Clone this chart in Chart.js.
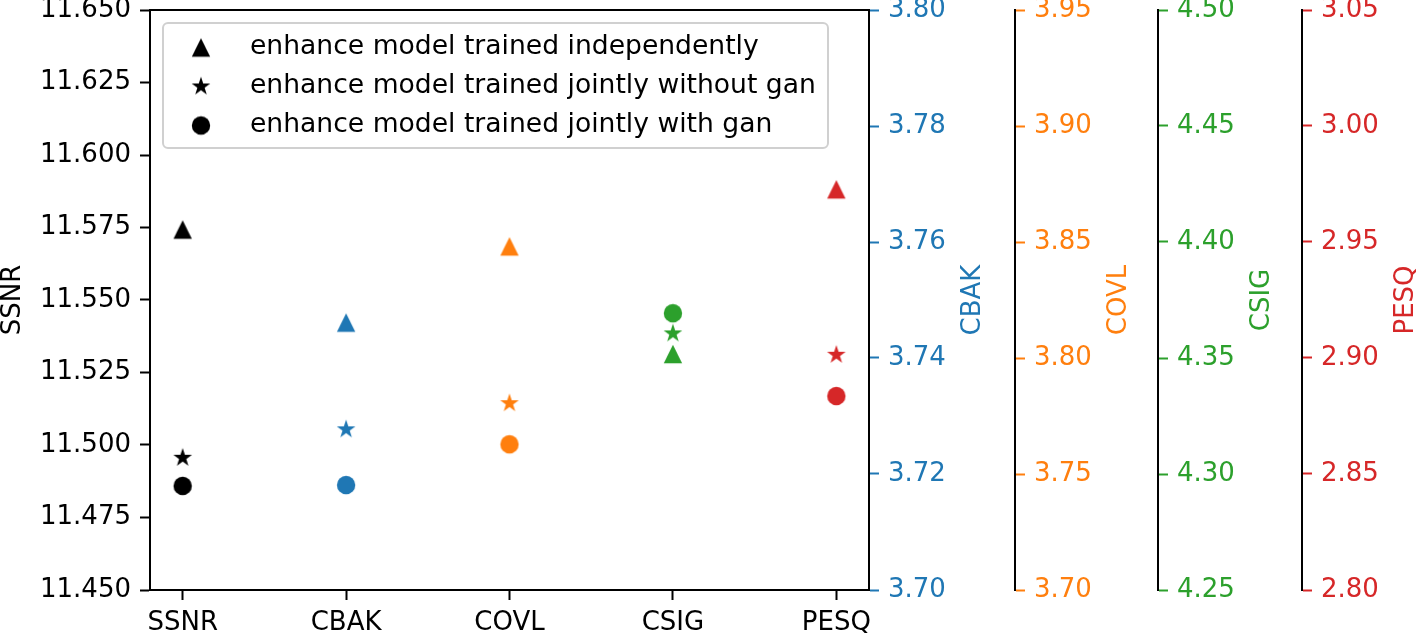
<!DOCTYPE html>
<html>
<head>
<meta charset="utf-8">
<script src="https://cdn.jsdelivr.net/npm/chart.js@4.4.0/dist/chart.umd.min.js"></script>
<style>
  body{margin:0;background:#fff;}
  #wrap{width:1418px;height:634px;}
</style>
</head>
<body>
<div id="wrap"><canvas id="myChart" width="1418" height="634"></canvas></div>
<script>
// metrics on the x axis
const categories = ['SSNR', 'CBAK', 'COVL', 'CSIG', 'PESQ'];
// values per method, one per metric
const independent = [11.5743, 3.7461, 3.8481, 4.3517, 2.9727];
const jointNoGan  = [11.4956, 3.7277, 3.7805, 4.3606, 2.9014];
const jointGan    = [11.4859, 3.7181, 3.7628, 4.3693, 2.8836];
const methodNames = [
  'enhance model trained independently',
  'enhance model trained jointly without gan',
  'enhance model trained jointly with gan'
];
// axis ranges and steps
const axisMin  = [11.45, 3.70, 3.70, 4.25, 2.80];
const axisMax  = [11.65, 3.80, 3.95, 4.50, 3.05];
const axisStep = [0.025, 0.02, 0.05, 0.05, 0.05];
const axisDigits = [3, 2, 2, 2, 2];

const colors = ['#000000', '#1f77b4', '#ff7f0e', '#2ca02c', '#d62728'];
const axisIds = ['ySSNR', 'yCBAK', 'yCOVL', 'yCSIG', 'yPESQ'];
const rightWidths = [146, 143, 144, 116];

const FONT = 'DejaVu Sans';
Chart.defaults.font.family = FONT;
Chart.defaults.font.size = 26;
Chart.defaults.color = '#000';

// matplotlib-like markers drawn on small canvases
let makeMarker=(shape, color)=>{
  const c = document.createElement('canvas');
  c.width = 24; c.height = 24;
  const g = c.getContext('2d');
  g.fillStyle = color;
  g.beginPath();
  const cx = 12, cy = 12, r = 9.2;
  if (shape === 'tri') {
    g.moveTo(cx, cy - r);
    g.lineTo(cx + r, cy + r);
    g.lineTo(cx - r, cy + r);
    g.closePath();
  } else if (shape === 'star') {
    const inner = r * 0.381966;
    for (let k = 0; k < 10; k++) {
      const rr = k % 2 == 0 ? r + 0.6 : inner + 0.3;
      const a = -Math.PI / 2 + k * Math.PI / 5;
      const px = cx + rr * Math.cos(a), py = cy + rr * Math.sin(a);
      if (k == 0) g.moveTo(px, py); else g.lineTo(px, py);
    }
    g.closePath();
  } else {
    g.arc(cx, cy, r, 0, Math.PI * 2);
  }
  g.fill();
  return c;
}
const shapes = ['tri', 'star', 'circle'];

const datasets = categories.map((cat, i) => ({
  label: cat,
  yAxisID: axisIds[i],
  data: [
    {x: i, y: independent[i]},
    {x: i, y: jointNoGan[i]},
    {x: i, y: jointGan[i]}
  ],
  pointStyle: shapes.map(s => makeMarker(s, colors[i])),
  pointRadius: 9,
  pointHoverRadius: 9,
  showLine: false
}));

const scales = {
  x: {
    type: 'linear',
    min: -0.2, max: 4.2,
    afterBuildTicks: s => { s.ticks = categories.map((c, i) => ({value: i})); },
    ticks: { callback: v => categories[v], padding: 8, color: '#000', maxRotation: 0 },
    grid: { drawOnChartArea: false, tickLength: 10, tickWidth: 2, tickColor: '#000' },
    border: { display: true, color: '#000', width: 2 },
    afterFit: s => { s.height = 44; s.paddingLeft = 0; s.paddingRight = 0; }
  }
};
axisIds.forEach((id, i) => {
  const right = i > 0;
  scales[id] = {
    type: 'linear',
    position: right ? 'right' : 'left',
    weight: i,
    min: axisMin[i], max: axisMax[i],
    ticks: {
      stepSize: axisStep[i],
      callback: v => v.toFixed(axisDigits[i]),
      color: colors[i],
      padding: 9
    },
    grid: { drawOnChartArea: false, tickLength: 10, tickWidth: 2, tickColor: colors[i] },
    border: { display: true, color: '#000', width: 2 },
    afterFit: s => {
      s.width = right ? rightWidths[i - 1] : 150;
      s.paddingTop = 0; s.paddingBottom = 0;
    }
  };
});

// top spine, axis titles and legend box
const extras = {
  id: 'extras',
  afterDraw(chart) {
    const ctx = chart.ctx;
    const a = chart.chartArea;
    ctx.save();
    ctx.strokeStyle = '#000';
    ctx.lineWidth = 2;
    ctx.beginPath();
    ctx.moveTo(a.left, a.top);
    ctx.lineTo(a.right, a.top);
    ctx.stroke();

    const midY = (a.top + a.bottom) / 2;
    ctx.font = '26px ' + FONT;
    ctx.textAlign = 'center';
    ctx.textBaseline = 'middle';
    axisIds.forEach((id, i) => {
      const sc = chart.scales[id];
      const x = i == 0 ? 13 : sc.left + 104;
      ctx.save();
      ctx.translate(x, midY);
      ctx.rotate(-Math.PI / 2);
      ctx.fillStyle = colors[i];
      ctx.fillText(categories[i], 0, 0);
      ctx.restore();
    });

    // legend
    const lx = a.left + 13, ly = a.top + 13, lw = 665, lh = 125;
    ctx.beginPath();
    ctx.roundRect(lx, ly, lw, lh, 5);
    ctx.fillStyle = 'rgba(255,255,255,0.8)';
    ctx.fill();
    ctx.strokeStyle = '#d0d0d0';
    ctx.lineWidth = 2;
    ctx.stroke();
    ctx.font = '26.6px ' + FONT;
    ctx.textAlign = 'left';
    ctx.fillStyle = '#000';
    methodNames.forEach((name, k) => {
      const y = ly + 24.5 + k * 39;
      const m = makeMarker(shapes[k], '#000');
      ctx.drawImage(m, lx + 38 - m.width / 2, y - m.height / 2);
      ctx.fillText(name, lx + 87, y);
    });
    ctx.restore();
  }
};

window.addEventListener('load', () => {
  const ctx = document.getElementById('myChart');
  new Chart(ctx, {
    type: 'scatter',
    data: { datasets: datasets },
    options: {
      responsive: false,
      animation: false,
      layout: { padding: { top: 10, left: 0, right: 0, bottom: 0 } },
      plugins: { legend: { display: false }, tooltip: { enabled: false } },
      scales: scales
    },
    plugins: [extras]
  });
});
</script>
</body>
</html>
